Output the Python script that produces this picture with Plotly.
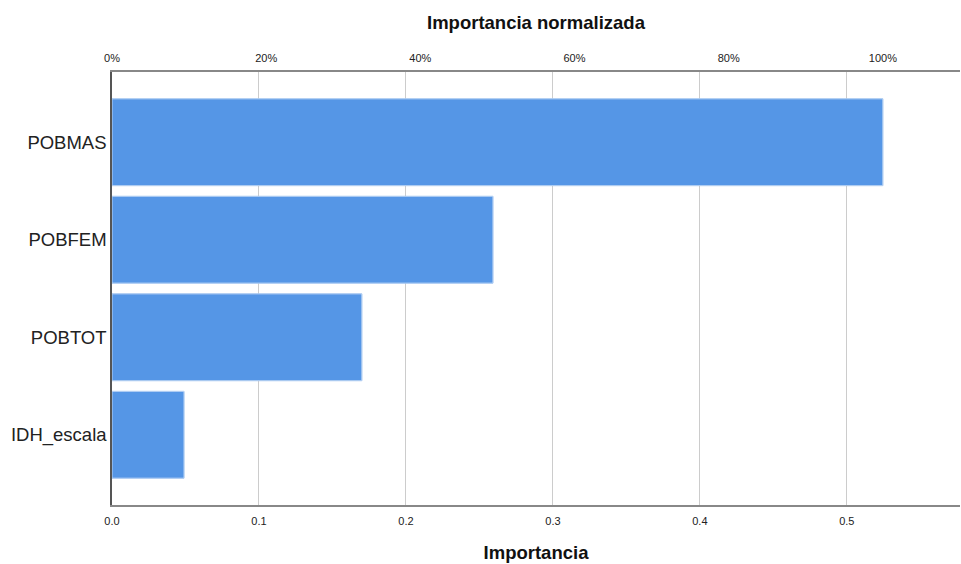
import plotly.graph_objects as go

categories = ["POBMAS", "POBFEM", "POBTOT", "IDH_escala"]
importance = [0.5245, 0.2592, 0.170, 0.049]
x_ticks = [0.0, 0.1, 0.2, 0.3, 0.4, 0.5]
x_tick_labels = ["0.0", "0.1", "0.2", "0.3", "0.4", "0.5"]
pct_ticks = [0, 20, 40, 60, 80, 100]
pct_tick_labels = ["0%", "20%", "40%", "60%", "80%", "100%"]

x_max = 0.577
max_imp = max(importance)
normalized = [v / max_imp * 100 for v in importance]

font = "Liberation Sans, Arial, sans-serif"
bar_color = "#5596e6"

fig = go.Figure()
fig.add_trace(go.Bar(
    x=importance, y=categories, orientation="h",
    marker=dict(color=bar_color, line=dict(color="#7fb0ee", width=1)),
    width=0.89, xaxis="x", yaxis="y", showlegend=False, hoverinfo="x+y",
))
fig.add_trace(go.Bar(
    x=normalized, y=categories, orientation="h",
    marker=dict(color="rgba(0,0,0,0)"), width=0.89,
    xaxis="x2", yaxis="y", showlegend=False, hoverinfo="skip",
))

fig.update_layout(
    width=961, height=564,
    margin=dict(l=112, r=1, t=72, b=59),
    paper_bgcolor="white", plot_bgcolor="white",
    font=dict(family=font, color="#222"),
    bargap=0.11,
    xaxis=dict(
        range=[0, x_max], tickvals=x_ticks, ticktext=x_tick_labels,
        showgrid=True, gridcolor="#cccccc", gridwidth=1,
        showline=True, linecolor="#888888", linewidth=1.5,
        zeroline=False, ticks="", ticklabelstandoff=5,
        tickfont=dict(size=11, color="#222"),
        title=dict(text="<b>Importancia</b>", font=dict(size=18.5, color="#111"), standoff=20),
    ),
    xaxis2=dict(
        range=[0, x_max / max_imp * 100], overlaying="x", side="top",
        tickvals=pct_ticks, ticktext=pct_tick_labels,
        showgrid=False, showline=True, linecolor="#888888", linewidth=1.5,
        zeroline=False, ticks="", ticklabelstandoff=4,
        tickfont=dict(size=11, color="#222"),
        title=dict(text="<b>Importancia normalizada</b>", font=dict(size=18.5, color="#111"), standoff=17),
    ),
    yaxis=dict(
        categoryorder="array", categoryarray=categories, autorange=False,
        range=[3.72, -0.72],
        showgrid=False, showline=True, linecolor="#555555", linewidth=1.5,
        zeroline=False, ticks="", ticklabelstandoff=0,
        tickfont=dict(size=18.5, color="#222"),
    ),
)

fig.write_html(
    "out.html",
    config={"displayModeBar": False},
    post_script="document.body.style.margin='0px';document.body.style.overflow='hidden';",
)
